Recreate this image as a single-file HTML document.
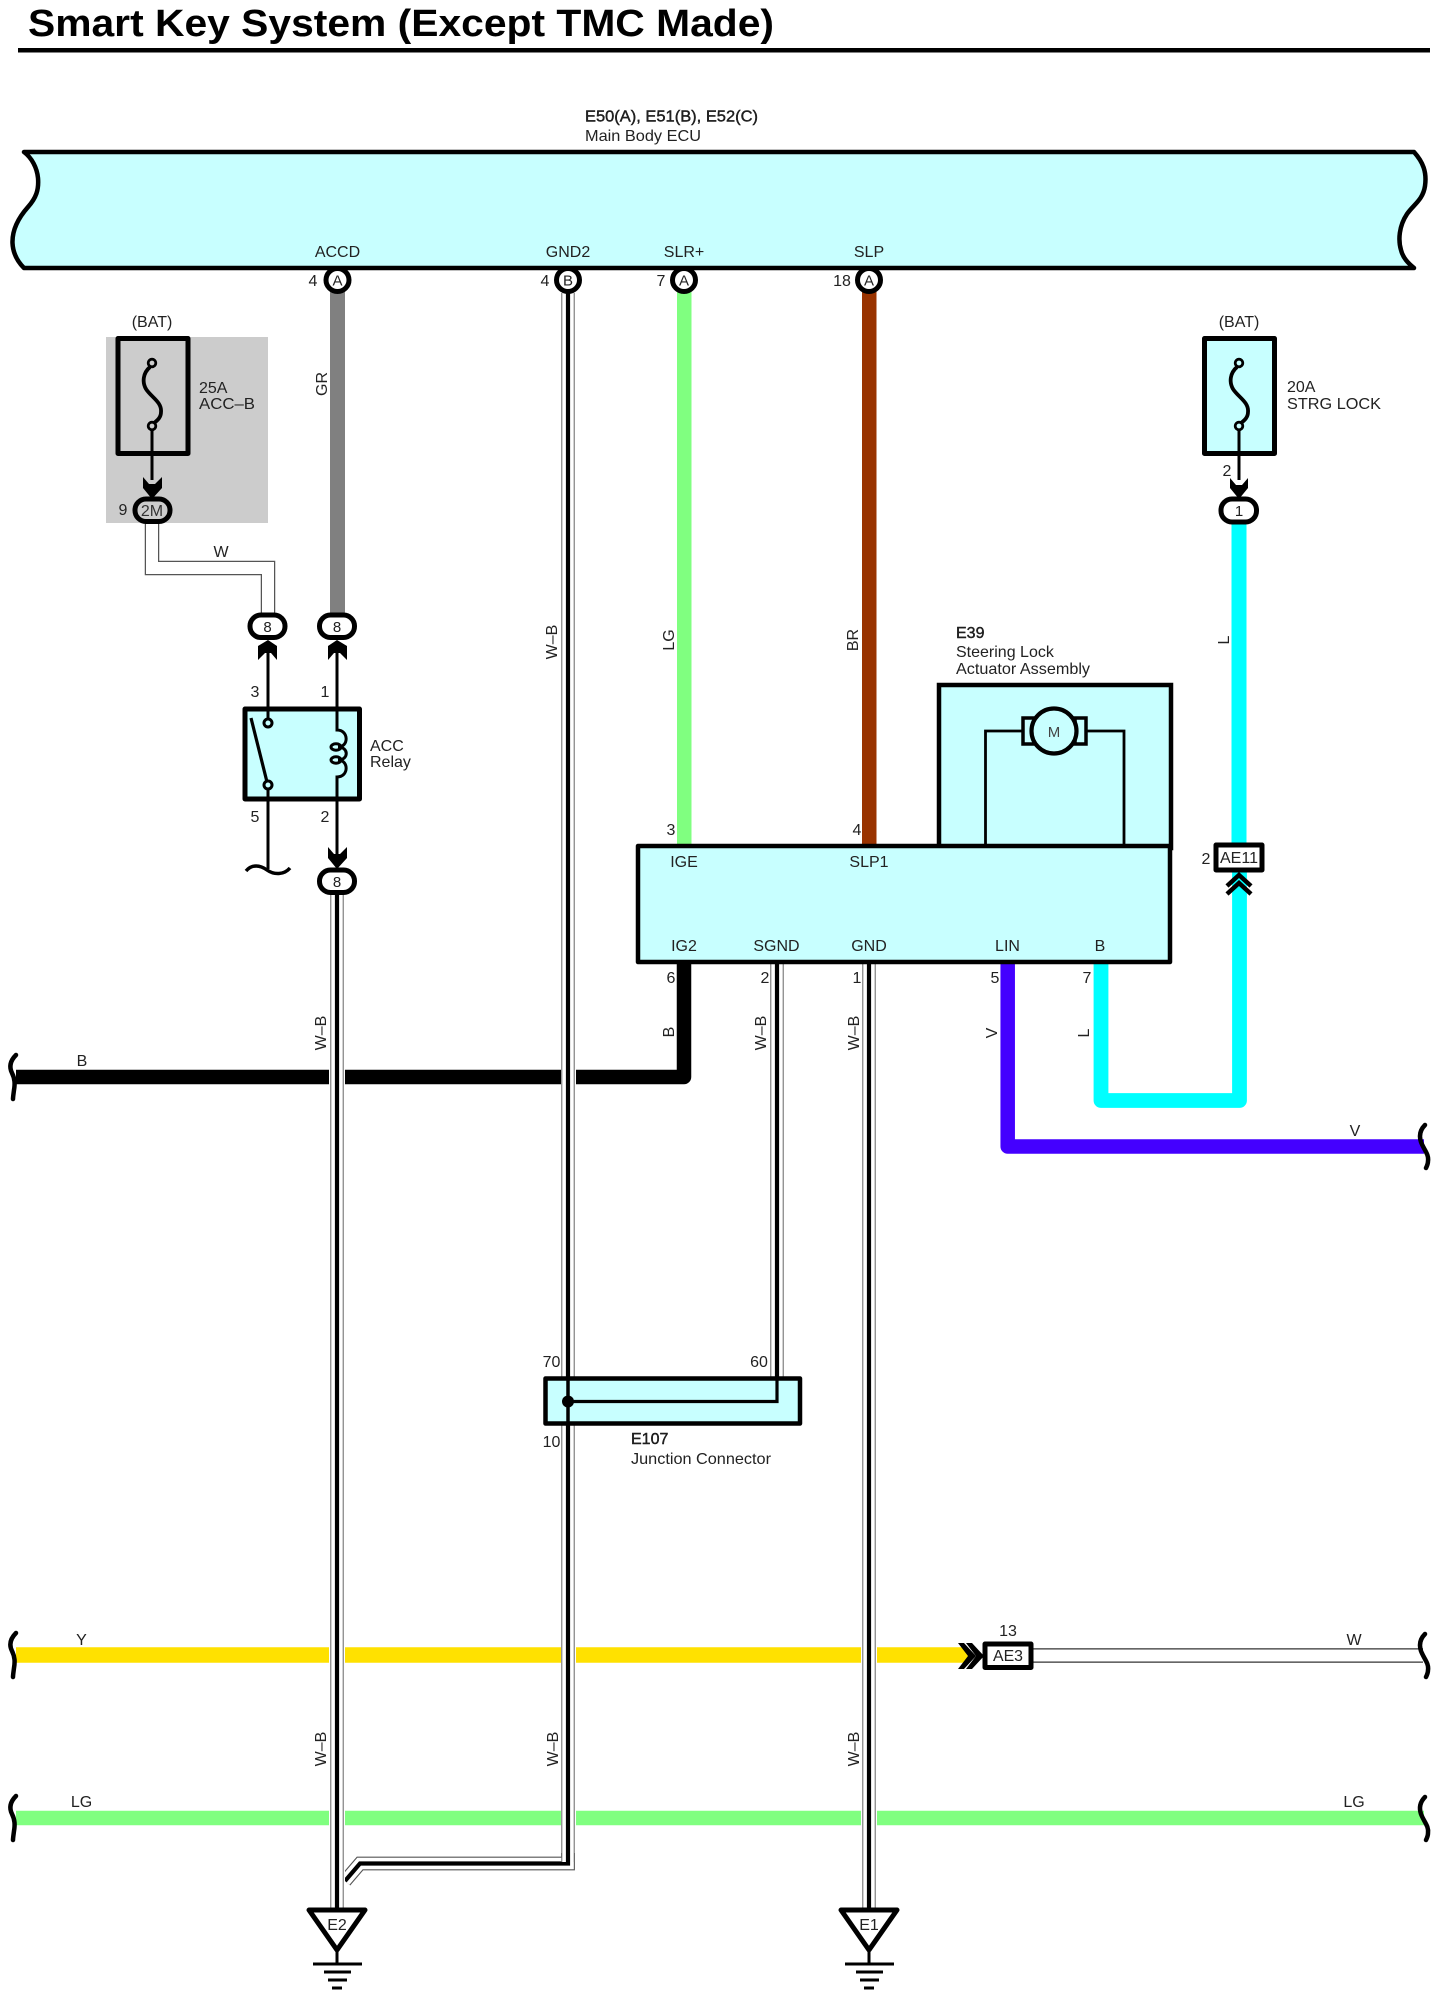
<!DOCTYPE html>
<html><head><meta charset="utf-8"><title>Smart Key System</title>
<style>
html,body{margin:0;padding:0;background:#fff;width:1443px;height:1996px;overflow:hidden}
svg{display:block}
text{font-family:"Liberation Sans",sans-serif;font-size:16px;fill:#222}
.m{text-anchor:middle}
.b{stroke:#111;stroke-width:.4}
.n{font-size:15px;text-anchor:middle;fill:#222}
</style></head><body>
<svg xmlns="http://www.w3.org/2000/svg" width="1443" height="1996" viewBox="0 0 1443 1996">
<rect width="1443" height="1996" fill="#fff"/>
<text x="28" y="36" style="font-size:38px;font-weight:bold;fill:#000" textLength="746" lengthAdjust="spacingAndGlyphs">Smart Key System (Except TMC Made)</text>
<rect x="18" y="48" width="1412" height="4.5" fill="#000"/>

<text x="585" y="121.5" class="b" textLength="173" lengthAdjust="spacingAndGlyphs">E50(A), E51(B), E52(C)</text>
<text x="585" y="141" textLength="116" lengthAdjust="spacingAndGlyphs">Main Body ECU</text>

<!-- ECU -->
<path d="M24 152 H1414 C1423 162 1427 172 1425 186 C1423 200 1413 205 1407 214 C1399 226 1398 240 1401 250 C1403 258 1408 263 1414 268 H24 C18 262 13 254 12.5 243 C12 228 20 216 28 207 C36 198 39 190 38 178 C37 168 32 158 24 152 Z" fill="#c8ffff" stroke="#000" stroke-width="4.5" stroke-linejoin="round"/>
<text class="m" x="337.5" y="257">ACCD</text>
<text class="m" x="568" y="257">GND2</text>
<text class="m" x="684" y="257">SLR+</text>
<text class="m" x="869" y="257">SLP</text>

<!-- grey fuse background -->
<rect x="106" y="337" width="162" height="186" fill="#cccccc"/>

<!-- thick horizontal wires -->
<path d="M16 1077 H684 V962" fill="none" stroke="#000" stroke-width="14.5" stroke-linejoin="round"/>
<path d="M16 1655 H968" fill="none" stroke="#ffe100" stroke-width="15.5"/>
<path d="M16 1818 H1424" fill="none" stroke="#80ff80" stroke-width="14.5"/>
<path d="M1007.7 962 V1146.5 H1424" fill="none" stroke="#4400ff" stroke-width="14.5" stroke-linejoin="round"/>
<path d="M1101 962 V1100.5 H1239.5 V870" fill="none" stroke="#00ffff" stroke-width="14.8" stroke-linejoin="round"/>
<path d="M1239 522 V845" fill="none" stroke="#00ffff" stroke-width="15"/>
<!-- thick vertical wires -->
<rect x="330" y="290" width="15" height="325" fill="#808080"/>
<rect x="677" y="290" width="14.5" height="556" fill="#80ff80"/>
<rect x="862" y="290" width="14.5" height="556" fill="#993300"/>

<!-- W wire from 2M -->
<path d="M152 523 V568 H268 V615" fill="none" stroke="#555" stroke-width="14.5"/>
<path d="M152 523 V568 H268 V615" fill="none" stroke="#fff" stroke-width="12"/>
<!-- W wire right -->
<path d="M1033 1655.5 H1423" fill="none" stroke="#333" stroke-width="14.5"/>
<path d="M1033 1655.5 H1423" fill="none" stroke="#fff" stroke-width="12"/>

<!-- W-B branch -->
<path d="M568 293 V1863.5 H360 L345 1881" fill="none" stroke="#555" stroke-width="13.8"/>
<path d="M568 293 V1863.5 H360 L345 1881" fill="none" stroke="#fff" stroke-width="11.6"/>
<path d="M568 293 V1863.5 H360 L345 1881" fill="none" stroke="#000" stroke-width="4.2"/>
<!-- white halo around verticals -->
<rect x="329" y="894" width="16" height="1014" fill="#fff"/>
<rect x="561" y="293" width="15" height="1560" fill="#fff"/>
<rect x="861" y="964" width="16" height="944" fill="#fff"/>
<!-- W-B verticals -->
<g fill="none">
<path d="M337 894 V1908" stroke="#666" stroke-width="13.4"/><path d="M337 894 V1908" stroke="#fff" stroke-width="11.4"/><path d="M337 894 V1908" stroke="#000" stroke-width="4.2"/>
<path d="M568 293 V1862" stroke="#666" stroke-width="13.4"/><path d="M568 293 V1862" stroke="#fff" stroke-width="11.4"/><path d="M568 293 V1862" stroke="#000" stroke-width="4.2"/>
<path d="M777 964 V1378" stroke="#666" stroke-width="13.4"/><path d="M777 964 V1378" stroke="#fff" stroke-width="11.4"/><path d="M777 964 V1378" stroke="#000" stroke-width="4.2"/>
<path d="M869 964 V1908" stroke="#666" stroke-width="13.4"/><path d="M869 964 V1908" stroke="#fff" stroke-width="11.4"/><path d="M869 964 V1908" stroke="#000" stroke-width="4.2"/>
</g>

<!-- break marks -->
<g fill="none" stroke="#000" stroke-width="4.5" stroke-linecap="round">
<path d="M16 1055 C10 1061 9 1067 12 1073 C15 1079 15 1084 14 1090 C13.5 1094 13 1097 13 1099"/>
<path d="M16 1633 C10 1639 9 1645 12 1651 C15 1657 15 1662 14 1668 C13.5 1672 13 1675 13 1677"/>
<path d="M16 1796 C10 1802 9 1808 12 1814 C15 1820 15 1825 14 1831 C13.5 1835 13 1838 13 1840"/>
<path d="M1425 1125 C1420 1130 1419 1136 1421 1142 C1424 1150 1429 1154 1428 1161 C1428 1164 1427 1166 1426 1168"/>
<path d="M1425 1634 C1420 1639 1419 1645 1421 1651 C1424 1659 1429 1663 1428 1670 C1428 1673 1427 1675 1426 1677"/>
<path d="M1425 1797 C1420 1802 1419 1808 1421 1814 C1424 1822 1429 1826 1428 1833 C1428 1836 1427 1838 1426 1840"/>
</g>

<!-- ECU connectors -->
<g fill="#fff" stroke="#000" stroke-width="5">
<circle cx="337.5" cy="280" r="11.5"/><circle cx="568" cy="280" r="11.5"/><circle cx="684" cy="280" r="11.5"/><circle cx="869" cy="280" r="11.5"/>
</g>
<text class="n" x="337.5" y="285.5">A</text><text class="n" x="568" y="285.5">B</text><text class="n" x="684" y="285.5">A</text><text class="n" x="869" y="285.5">A</text>
<text class="m" x="313" y="286">4</text><text class="m" x="545" y="286">4</text><text class="m" x="661" y="286">7</text><text class="m" x="842" y="286">18</text>

<!-- Left fuse -->
<text class="m" x="152" y="327">(BAT)</text>
<rect x="118" y="338.5" width="70" height="115" fill="#cccccc" stroke="#000" stroke-width="5" stroke-linejoin="round"/>
<path d="M150 367 C143 373 142 382 146 389 C151 397 162 402 161 412 C161 417 158 420 154 423" fill="none" stroke="#000" stroke-width="3.8"/>
<circle cx="152" cy="363" r="3.8" fill="#cccccc" stroke="#000" stroke-width="2.8"/>
<circle cx="152" cy="426" r="3.8" fill="#cccccc" stroke="#000" stroke-width="2.8"/>
<path d="M152 430 V480" stroke="#000" stroke-width="3"/>
<polygon points="143,477 149,484 155,484 162,477 162,488 152,499 143,488" fill="#000"/>
<text x="199" y="393">25A</text><text x="199" y="409" textLength="56" lengthAdjust="spacingAndGlyphs">ACC–B</text>
<rect x="135" y="499" width="35" height="22.5" rx="11" fill="#cccccc" stroke="#000" stroke-width="5"/>
<text class="m" x="152" y="516" style="font-size:16px;fill:#333">2M</text>
<text class="m" x="123" y="515">9</text>
<text class="m" x="221" y="557">W</text>

<!-- Right fuse -->
<text class="m" x="1239" y="327">(BAT)</text>
<rect x="1204.5" y="338.5" width="70" height="115" fill="#c8ffff" stroke="#000" stroke-width="5" stroke-linejoin="round"/>
<path d="M1237 367 C1230 373 1229 382 1233 389 C1238 397 1249 402 1248 412 C1248 417 1245 420 1241 423" fill="none" stroke="#000" stroke-width="3.8"/>
<circle cx="1239" cy="363" r="3.8" fill="#c8ffff" stroke="#000" stroke-width="2.8"/>
<circle cx="1239" cy="426" r="3.8" fill="#c8ffff" stroke="#000" stroke-width="2.8"/>
<path d="M1239 430 V480" stroke="#000" stroke-width="3"/>
<polygon points="1230,478 1236,485 1242,485 1248,478 1248,488 1239,499 1230,488" fill="#000"/>
<text x="1293" y="392" dx="-6">20A</text><text x="1293" y="409" dx="-6" textLength="94" lengthAdjust="spacingAndGlyphs">STRG LOCK</text>
<text class="m" x="1227" y="476">2</text>
<rect x="1221" y="499" width="35.5" height="23" rx="11" fill="#fff" stroke="#000" stroke-width="5"/>
<text class="n" x="1239" y="516">1</text>

<!-- Relay connectors -->
<g fill="#fff" stroke="#000" stroke-width="5">
<rect x="250" y="615" width="35" height="22.5" rx="11"/>
<rect x="319.5" y="615" width="35" height="22.5" rx="11"/>
<rect x="319.5" y="870" width="35" height="22.5" rx="11"/>
</g>
<text class="n" x="267.5" y="632">8</text><text class="n" x="337" y="632">8</text><text class="n" x="337" y="887">8</text>
<polygon points="268,640 277,646 277,660 271,653 265,653 258,660 258,646" fill="#000"/>
<polygon points="337,640 347,646 347,660 340,653 334,653 328,660 328,646" fill="#000"/>
<polygon points="328,847 334,854 340,854 347,847 347,858 337,869 328,858" fill="#000"/>

<!-- Relay -->
<rect x="245" y="709" width="114.5" height="90" fill="#c8ffff" stroke="#000" stroke-width="5" stroke-linejoin="round"/>
<g fill="none" stroke="#000" stroke-width="3">
<path d="M268 648 V718"/>
<path d="M268 790 V869"/>
<path d="M337 648 V730 C349 730 349 747 338 747 C349 747 349 760 338 760 C349 760 349 777 337 777 V855"/>
<ellipse cx="336" cy="747" rx="5" ry="3.2"/>
<ellipse cx="336" cy="760" rx="5" ry="3.2"/>
<path d="M251 718 L267 782" stroke-width="3.2"/>
<circle cx="268" cy="723" r="4" fill="#c8ffff"/>
<circle cx="268" cy="785" r="4" fill="#c8ffff"/>
<path d="M246 871 C252 864 260 865 267 870 C274 875 284 875 290 868" stroke-width="3.5"/>
</g>
<text class="m" x="255" y="697">3</text><text class="m" x="325" y="697">1</text><text class="m" x="255" y="822">5</text><text class="m" x="325" y="822">2</text>
<text x="370" y="751">ACC</text><text x="370" y="767">Relay</text>

<!-- Steering lock actuator -->
<rect x="939" y="685" width="232" height="163" fill="#c8ffff" stroke="#000" stroke-width="4.5"/>
<g fill="none" stroke="#000" stroke-width="2.8">
<path d="M985.5 848 V731 H1024"/><path d="M1124 848 V731 H1085"/>
<rect x="1023" y="718" width="11" height="26" fill="#c8ffff" stroke-width="3.5"/>
<rect x="1075" y="718" width="11" height="26" fill="#c8ffff" stroke-width="3.5"/>
<circle cx="1054" cy="731" r="22.5" fill="#c8ffff" stroke-width="4.2"/>
</g>
<text class="m" x="1054" y="737" style="font-size:15px;fill:#444">M</text>
<text x="961" y="638" dx="-5" class="b">E39</text>
<text x="961" y="657" dx="-5">Steering Lock</text>
<text x="961" y="674" dx="-5" textLength="134" lengthAdjust="spacingAndGlyphs">Actuator Assembly</text>

<rect x="638" y="846" width="532" height="116" fill="#c8ffff" stroke="#000" stroke-width="4.5" stroke-linejoin="round"/>
<text class="m" x="684" y="867">IGE</text><text class="m" x="869" y="867">SLP1</text>
<text class="m" x="684" y="951">IG2</text><text class="m" x="776.5" y="951">SGND</text><text class="m" x="869" y="951">GND</text><text class="m" x="1007.5" y="951">LIN</text><text class="m" x="1100" y="951">B</text>
<text class="m" x="671" y="835">3</text><text class="m" x="857" y="835">4</text>
<text class="m" x="671" y="983">6</text><text class="m" x="765" y="983">2</text><text class="m" x="857" y="983">1</text><text class="m" x="995" y="983">5</text><text class="m" x="1087" y="983">7</text>

<!-- AE11 -->
<rect x="1216" y="845" width="46" height="25" fill="#fff" stroke="#000" stroke-width="5" stroke-linejoin="round"/>
<text class="m" x="1239" y="863" textLength="38" lengthAdjust="spacingAndGlyphs" style="fill:#222">AE11</text>
<text class="m" x="1206" y="864">2</text>
<g fill="none" stroke="#000" stroke-width="4.5">
<path d="M1227 886 L1239 875 L1251 886"/><path d="M1227 894 L1239 883 L1251 894"/>
</g>

<!-- AE3 -->
<rect x="985" y="1644" width="46" height="23.5" fill="#fff" stroke="#000" stroke-width="5" stroke-linejoin="round"/>
<text class="m" x="1008" y="1661" textLength="30" lengthAdjust="spacingAndGlyphs" style="fill:#222">AE3</text>
<text class="m" x="1008" y="1636">13</text>
<polygon points="958,1643 964,1643 976,1656 964,1669 958,1669 968,1656" fill="#000"/>
<polygon points="966,1643 972,1643 984,1656 972,1669 966,1669 976,1656" fill="#000"/>

<!-- Junction -->
<rect x="545.5" y="1378.5" width="254.5" height="45" fill="#c8ffff" stroke="#000" stroke-width="4.5" stroke-linejoin="round"/>
<path d="M568 1376 V1426" stroke="#000" stroke-width="3.5"/>
<path d="M568 1401.5 H777 V1376" fill="none" stroke="#000" stroke-width="3.2"/>
<circle cx="568" cy="1401.5" r="6" fill="#000"/>
<text class="m" x="551.5" y="1367">70</text><text class="m" x="759" y="1367">60</text><text class="m" x="551.5" y="1447">10</text>
<text x="631" y="1444" class="b">E107</text>
<text x="631" y="1464" textLength="140" lengthAdjust="spacingAndGlyphs">Junction Connector</text>

<!-- Grounds -->
<g fill="#fff" stroke="#000" stroke-width="5" stroke-linejoin="round">
<polygon points="309,1910 365,1910 337,1950"/>
<polygon points="841,1910 897,1910 869,1950"/>
</g>
<g stroke="#000" fill="none">
<path d="M337 1950 V1964 M313 1964 H362" stroke-width="3"/>
<path d="M324 1972 H351 M328 1980 H347 M332 1988 H342" stroke-width="3"/>
<path d="M869 1950 V1964 M845 1964 H894" stroke-width="3"/>
<path d="M856 1972 H883 M860 1980 H879 M864 1988 H874" stroke-width="3"/>
</g>
<text class="m" x="337" y="1930">E2</text><text class="m" x="869" y="1930">E1</text>

<!-- Wire labels -->
<text class="m" x="82" y="1066">B</text>
<text class="m" x="81.5" y="1645">Y</text>
<text class="m" x="81.5" y="1807">LG</text>
<text class="m" x="1354" y="1645">W</text>
<text class="m" x="1354" y="1807">LG</text>
<text class="m" x="1355" y="1136">V</text>
<g>
<text class="m" transform="translate(327,384) rotate(-90)">GR</text>
<text class="m" transform="translate(557,642) rotate(-90)">W–B</text>
<text class="m" transform="translate(674,640) rotate(-90)">LG</text>
<text class="m" transform="translate(858,640) rotate(-90)">BR</text>
<text class="m" transform="translate(1229,640) rotate(-90)">L</text>
<text class="m" transform="translate(326,1033) rotate(-90)">W–B</text>
<text class="m" transform="translate(674,1032) rotate(-90)">B</text>
<text class="m" transform="translate(766,1033) rotate(-90)">W–B</text>
<text class="m" transform="translate(859,1033) rotate(-90)">W–B</text>
<text class="m" transform="translate(997,1033) rotate(-90)">V</text>
<text class="m" transform="translate(1089,1033) rotate(-90)">L</text>
<text class="m" transform="translate(326,1749) rotate(-90)">W–B</text>
<text class="m" transform="translate(558,1749) rotate(-90)">W–B</text>
<text class="m" transform="translate(859,1749) rotate(-90)">W–B</text>
</g>
</svg>
</body></html>
